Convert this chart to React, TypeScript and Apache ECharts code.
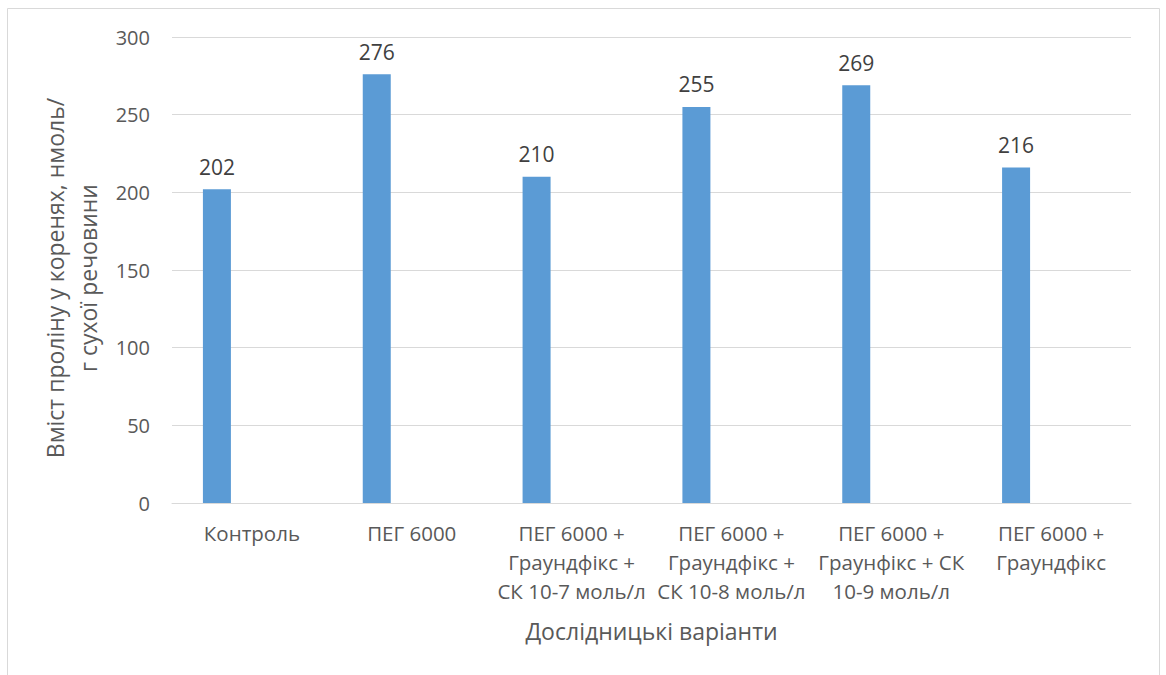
import React, { useEffect, useRef } from "react";
import * as echarts from "echarts";

const categories = [
  "Контроль",
  "ПЕГ 6000",
  "ПЕГ 6000 +\nГраундфікс +\nСК 10-7 моль/л",
  "ПЕГ 6000 +\nГраундфікс +\nСК 10-8 моль/л",
  "ПЕГ 6000 +\nГраунфікс + СК\n10-9 моль/л",
  "ПЕГ 6000 +\nГраундфікс",
];
const values = [202, 276, 210, 255, 269, 216];
const yMin = 0;
const yMax = 300;
const yStep = 50;
const xTitle = "Дослідницькі варіанти";
const yTitle = "Вміст проліну у коренях, нмоль/\nг сухої речовини";

const FONT = "'Open Sans', sans-serif";
const TEXT = "#595959";

export default function App() {
  const ref = useRef<HTMLDivElement>(null);
  useEffect(() => {
    const chart = echarts.init(ref.current!, null, { renderer: "svg" });
    chart.setOption({
      animation: false,
      backgroundColor: "#ffffff",
      textStyle: { fontFamily: FONT },
      graphic: [
        {
          type: "rect",
          shape: { x: 7.5, y: 8.5, width: 1152, height: 700 },
          style: { fill: "none", stroke: "#d9d9d9", lineWidth: 1 },
          silent: true,
        },
      ],
      grid: { left: 172, right: 35, top: 37, bottom: 172, containLabel: false },
      xAxis: {
        type: "category",
        data: categories,
        axisLine: { show: true, lineStyle: { color: "#d9d9d9", width: 1 } },
        axisTick: { show: false },
        axisLabel: {
          color: TEXT,
          fontSize: 20.5,
          fontFamily: FONT,
          lineHeight: 29,
          margin: 15,
          interval: 0,
        },
        name: xTitle,
        nameLocation: "middle",
        nameGap: 116,
        nameTextStyle: { color: TEXT, fontSize: 23, fontFamily: FONT },
      },
      yAxis: {
        type: "value",
        min: yMin,
        max: yMax,
        interval: yStep,
        axisLine: { show: false },
        axisTick: { show: false },
        splitLine: { lineStyle: { color: "#d9d9d9", width: 1 } },
        axisLabel: { color: TEXT, fontSize: 20, fontFamily: FONT, margin: 22 },
        name: yTitle,
        nameLocation: "middle",
        nameGap: 68,
        nameRotate: 90,
        nameTextStyle: {
          color: TEXT,
          fontSize: 23,
          fontFamily: FONT,
          lineHeight: 33,
          align: "center",
          padding: [0, 16, 0, 0],
        },
      },
      series: [
        {
          type: "bar",
          data: values,
          barWidth: 28,
          barGap: "150%",
          itemStyle: { color: "#5b9bd5" },
          label: {
            show: true,
            position: "top",
            distance: 12,
            color: "#404040",
            fontSize: 21,
            fontFamily: FONT,
          },
        },
        {
          type: "bar",
          data: values.map(() => "-"),
          barWidth: 28,
          itemStyle: { color: "#ed7d31" },
        },
      ],
    });
    return () => chart.dispose();
  }, []);
  return (
    <div
      ref={ref}
      style={{ position: "fixed", left: 0, top: 0, width: 1166, height: 675 }}
    />
  );
}
